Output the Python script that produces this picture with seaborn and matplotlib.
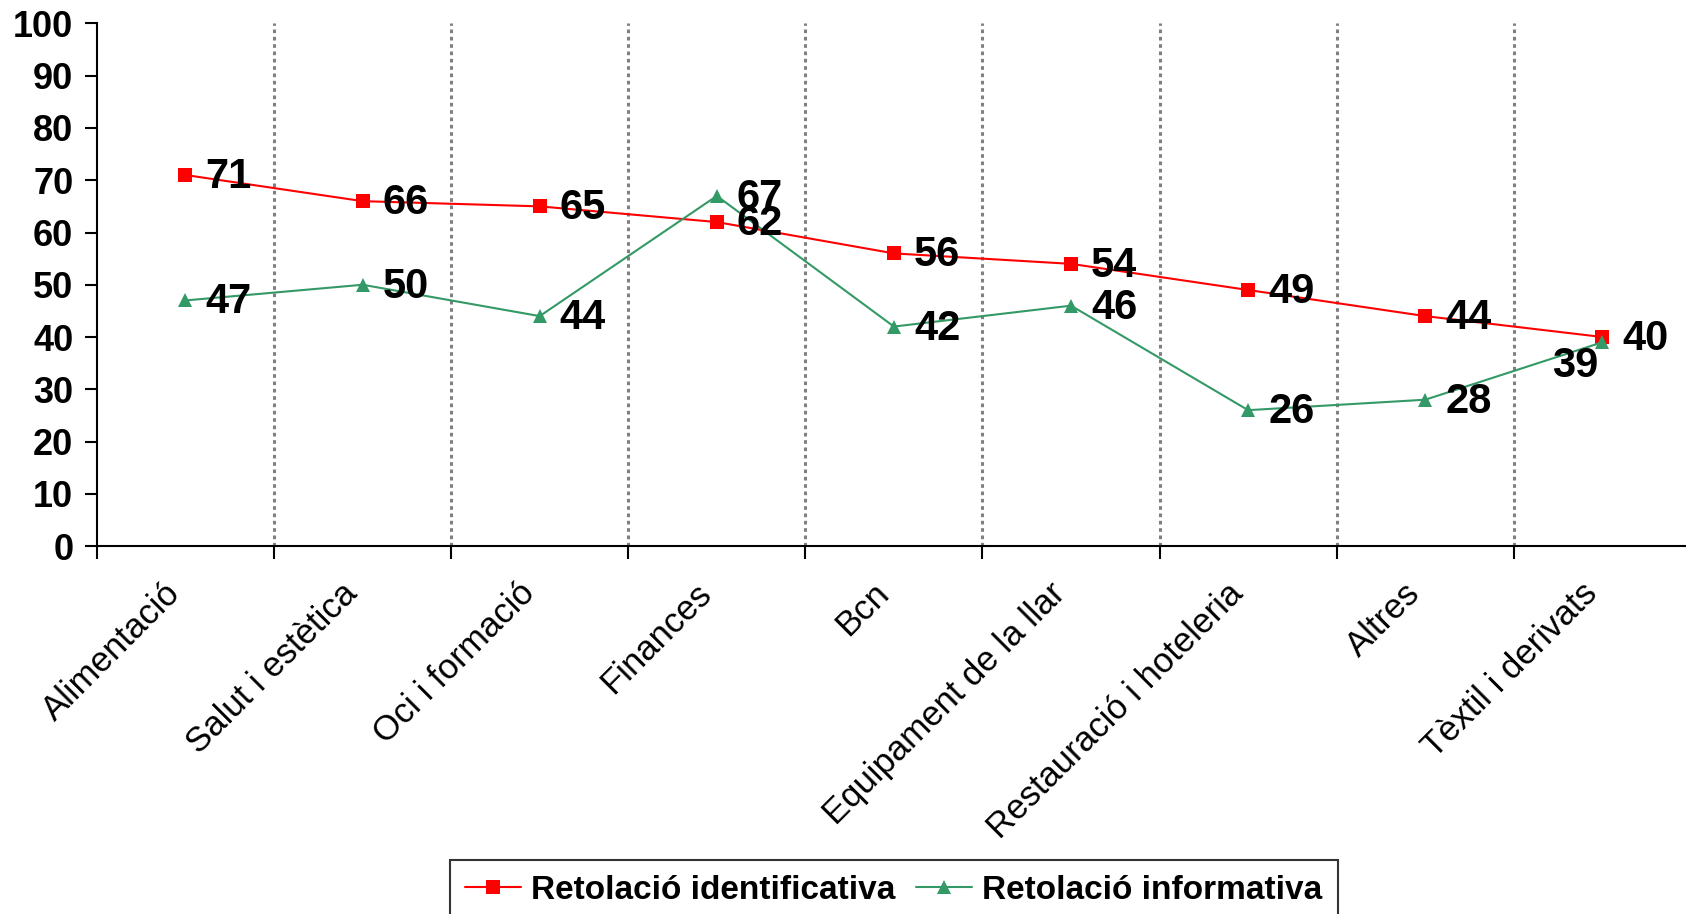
import matplotlib
matplotlib.use("Agg")
import matplotlib.pyplot as plt
import matplotlib.transforms as mtransforms
import seaborn as sns
import pandas as pd

categories = ["Alimentació", "Salut i estètica", "Oci i formació", "Finances", "Bcn",
              "Equipament de la llar", "Restauració i hoteleria", "Altres", "Tèxtil i derivats"]
identificativa = [71, 66, 65, 62, 56, 54, 49, 44, 40]
informativa = [47, 50, 44, 67, 42, 46, 26, 28, 39]
series_names = ["Retolació identificativa", "Retolació informativa"]
y_ticks = list(range(0, 101, 10))

sns.set_theme(style="white")
plt.rcParams['font.family'] = ['Liberation Sans', 'DejaVu Sans']
plt.rcParams['text.color'] = 'black'
plt.rcParams['xtick.color'] = 'black'
plt.rcParams['ytick.color'] = 'black'
plt.rcParams['axes.labelcolor'] = 'black'

df = pd.DataFrame({
    "cat": categories * 2,
    "val": identificativa + informativa,
    "serie": [series_names[0]] * len(categories) + [series_names[1]] * len(categories),
})

fig = plt.figure(figsize=(16.86, 9.14), dpi=100)
ax = fig.add_axes([0.0575, 0.4026, 0.9454, 0.5717])

palette = {series_names[0]: "#FF0000", series_names[1]: "#339966"}
sns.lineplot(data=df, x="cat", y="val", hue="serie", style="serie",
             markers={series_names[0]: "s", series_names[1]: "^"}, dashes=False,
             palette=palette, linewidth=1.5, markersize=10, markeredgewidth=0,
             sort=False, ax=ax, legend=True)

ax.set_xlim(-0.5, len(categories) - 0.5)
ax.set_ylim(0, 100)
ax.set_xlabel("")
ax.set_ylabel("")

# vertical dotted separators
for b in range(1, len(categories)):
    ax.axvline(b - 0.5, color="#808080", linestyle=(0, (1.2, 1.2)), linewidth=2.2, zorder=0)

# ticks
ax.set_xticks([i - 0.5 for i in range(len(categories) + 1)])
ax.set_xticklabels([])
ax.set_xticks(range(len(categories)), minor=True)
ax.set_xticklabels(categories, minor=True, rotation=45, ha="right", rotation_mode="anchor",
                   fontsize=25)
ax.tick_params(axis="x", which="major", direction="out", length=9, width=1.5, color="black", bottom=True)
ax.tick_params(axis="x", which="minor", length=0, pad=14)
shift = mtransforms.ScaledTranslation(-16 / 72, -8 / 72, fig.dpi_scale_trans)
for lbl in ax.get_xticklabels(minor=True):
    lbl.set_transform(lbl.get_transform() + shift)
ax.set_yticks(y_ticks)
ax.set_yticklabels([str(v) for v in y_ticks], fontsize=26, fontweight="bold")
ax.tick_params(axis="y", direction="out", length=9, width=1.5, color="black", left=True, pad=8)

for s in ["top", "right"]:
    ax.spines[s].set_visible(False)
for s in ["left", "bottom"]:
    ax.spines[s].set_color("black")
    ax.spines[s].set_linewidth(1.5)

# data labels
for i, v in enumerate(identificativa):
    ax.annotate(str(v), (i, v), xytext=(20, -2), textcoords="offset pixels",
                ha="left", va="center", fontsize=30, fontweight="bold")
for i, v in enumerate(informativa):
    if i == len(informativa) - 1:
        ax.annotate(str(v), (i, v), xytext=(-4, -24), textcoords="offset pixels",
                    ha="right", va="center", fontsize=30, fontweight="bold")
    else:
        ax.annotate(str(v), (i, v), xytext=(20, -2), textcoords="offset pixels",
                    ha="left", va="center", fontsize=30, fontweight="bold")

ax.get_legend().remove()
handles, labels = ax.get_legend_handles_labels()
leg = fig.legend(handles, labels, loc="upper center", bbox_to_anchor=(0.53, 0.059),
                 ncol=2, frameon=True, fancybox=False, edgecolor="black",
                 prop={"size": 24, "weight": "bold"}, handlelength=1.7, handletextpad=0.3,
                 columnspacing=0.6, borderpad=0.45, borderaxespad=0)
leg.get_frame().set_linewidth(1.5)

fig.savefig("out.png", dpi=100)
